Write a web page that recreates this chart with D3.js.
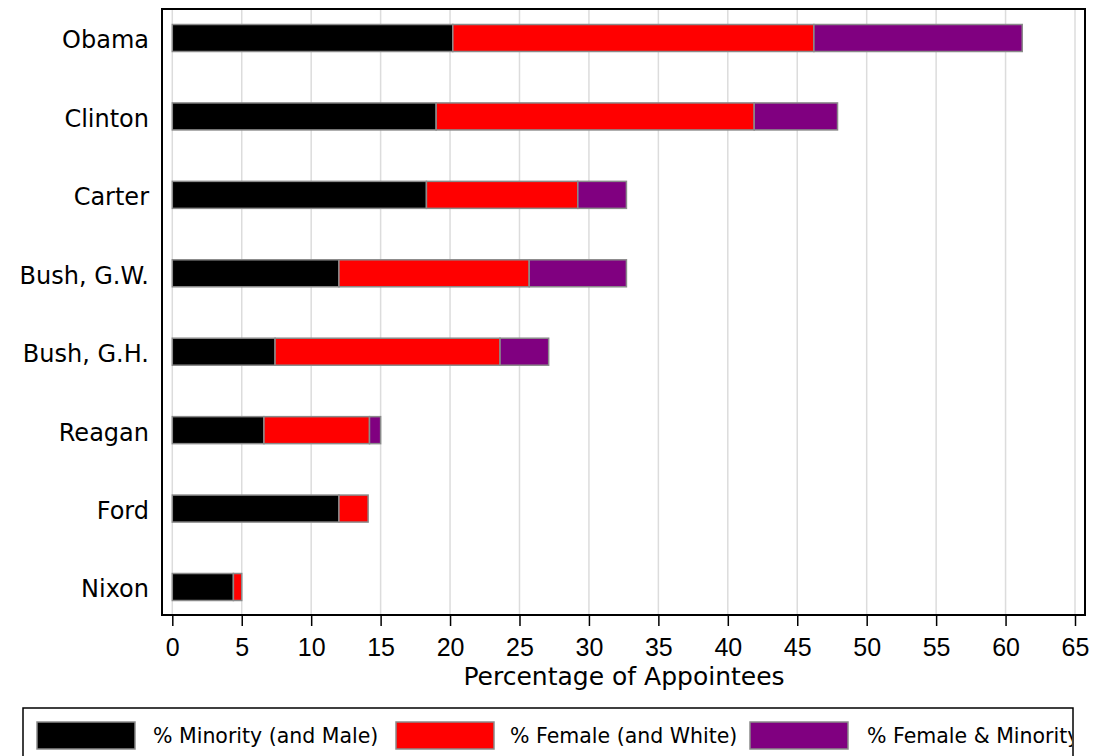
<!DOCTYPE html>
<html>
<head>
<meta charset="utf-8">
<script src="https://cdn.jsdelivr.net/npm/d3@7"></script>
<style>
  html, body { margin: 0; padding: 0; background: #fff; }
  svg { display: block; }
</style>
</head>
<body>
<svg id="chart" width="1093" height="756"></svg>
<script>
// ---- data ----
const presidents = ["Obama", "Clinton", "Carter", "Bush, G.W.", "Bush, G.H.", "Reagan", "Ford", "Nixon"];
const minorityMale = [20.2, 19.0, 18.3, 12.0, 7.4, 6.6, 12.0, 4.4];
const femaleWhite  = [26.0, 22.9, 10.9, 13.7, 16.2, 7.6, 2.1, 0.6];
const femaleMinority = [15.0, 6.0, 3.5, 7.0, 3.5, 0.8, 0.0, 0.0];
const seriesNames = ["% Minority (and Male)", "% Female (and White)", "% Female & Minority"];
const seriesColors = ["#000000", "#ff0000", "#800080"];
const xTicks = [0, 5, 10, 15, 20, 25, 30, 35, 40, 45, 50, 55, 60, 65];
const xTitle = "Percentage of Appointees";

// ---- layout ----
const svg = d3.select("#chart");
const frame = { left: 162, top: 9, right: 1085, bottom: 615 };

const x = d3.scaleLinear().domain([0, 65]).range([172.3, 1075]);
const y = d3.scalePoint().domain(presidents).range([38, 587]);
const barH = 27;

const rows = presidents.map((p, i) => ({
  name: p, s0: minorityMale[i], s1: femaleWhite[i], s2: femaleMinority[i]
}));
const stack = d3.stack().keys(["s0", "s1", "s2"])(rows);

// gridlines
svg.append("g").selectAll("line").data(xTicks).join("line")
  .attr("x1", d => x(d)).attr("x2", d => x(d))
  .attr("y1", frame.top).attr("y2", frame.bottom)
  .attr("stroke", "#dcdcdc").attr("stroke-width", 1.5);

// bars
svg.append("g").selectAll("g").data(stack).join("g")
  .attr("fill", (d, i) => seriesColors[i])
  .selectAll("rect").data(d => d.filter(s => s[1] - s[0] > 0)).join("rect")
  .attr("x", d => x(d[0]))
  .attr("width", d => x(d[1]) - x(d[0]))
  .attr("y", d => y(d.data.name) - barH / 2)
  .attr("height", barH)
  .attr("stroke", "#8a8a8a").attr("stroke-width", 1.5);

// frame
svg.append("rect")
  .attr("x", frame.left).attr("y", frame.top)
  .attr("width", frame.right - frame.left).attr("height", frame.bottom - frame.top)
  .attr("fill", "none").attr("stroke", "#000").attr("stroke-width", 2);

// x axis
const xAxis = d3.axisBottom(x).tickValues(xTicks).tickSize(11).tickPadding(12).tickSizeOuter(0);
const gx = svg.append("g").attr("transform", `translate(0,${frame.bottom})`).call(xAxis);
gx.select(".domain").remove();
gx.selectAll(".tick line").attr("stroke", "#000").attr("stroke-width", 1.5);
gx.selectAll(".tick text")
  .attr("font-family", "'Liberation Sans', Arial, sans-serif")
  .attr("font-size", 25).attr("fill", "#000");

svg.append("text")
  .attr("x", 624).attr("y", 685)
  .attr("text-anchor", "middle")
  .attr("font-family", "'DejaVu Sans', sans-serif")
  .attr("font-size", 25).attr("fill", "#000")
  .text(xTitle);

// y labels
svg.append("g").selectAll("text").data(presidents).join("text")
  .attr("x", 149).attr("y", d => y(d) + 2).attr("dy", "0.35em")
  .attr("text-anchor", "end")
  .attr("font-family", "'DejaVu Sans', sans-serif")
  .attr("font-size", 24).attr("fill", "#000")
  .text(d => d);

// legend
const lg = svg.append("g");
svg.append("clipPath").attr("id", "legclip").append("rect")
  .attr("x", 23).attr("y", 700).attr("width", 1049).attr("height", 60);
lg.append("rect").attr("x", 23).attr("y", 708).attr("width", 1050).attr("height", 60)
  .attr("fill", "#fff").attr("stroke", "#000").attr("stroke-width", 1.5);
const swX = [37, 396, 750];
const txX = [153, 510, 867];
const items = lg.append("g").attr("clip-path", "url(#legclip)")
  .selectAll("g").data(seriesNames).join("g");
items.append("rect")
  .attr("x", (d, i) => swX[i]).attr("y", 722).attr("width", 98).attr("height", 27)
  .attr("fill", (d, i) => seriesColors[i]).attr("stroke", "#8a8a8a").attr("stroke-width", 1.5);
items.append("text")
  .attr("x", (d, i) => txX[i]).attr("y", 743)
  .attr("font-family", "'DejaVu Sans', sans-serif")
  .attr("font-size", 20.5).attr("fill", "#000")
  .text(d => d);
</script>
</body>
</html>
